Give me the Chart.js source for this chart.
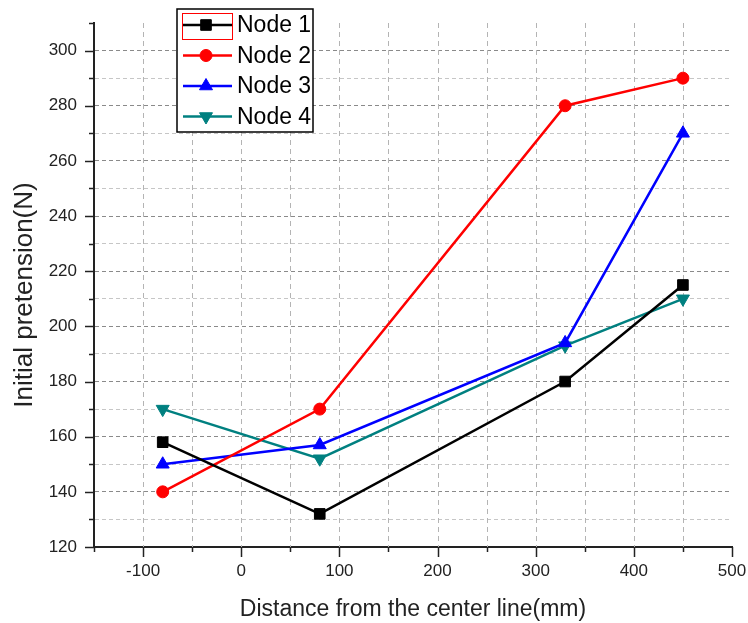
<!DOCTYPE html>
<html>
<head>
<meta charset="utf-8">
<script src="https://cdn.jsdelivr.net/npm/chart.js@4/dist/chart.umd.min.js"></script>
<style>
  html, body { margin: 0; padding: 0; background: #fff; }
  #wrap { width: 748px; height: 623px; }
</style>
</head>
<body>
<div id="wrap"><canvas id="c" width="748" height="623"></canvas></div>
<script>
// ---- data ----
const seriesNames = ['Node 1', 'Node 2', 'Node 3', 'Node 4'];
const xValues = [-80, 80, 330, 450];
const node1 = [158, 132, 180, 215];
const node2 = [140, 170, 280, 290];
const node3 = [150, 157, 194, 270];
const node4 = [170, 152, 193, 210];
const xTickLabels = [-100, 0, 100, 200, 300, 400, 500];
const yTickLabels = [120, 140, 160, 180, 200, 220, 240, 260, 280, 300];
const xTitle = 'Distance from the center line(mm)';
const yTitle = 'Initial pretension(N)';

const FONT = '"Liberation Sans", Arial, Helvetica, sans-serif';
const colors = ['#000000', '#ff0000', '#0000ff', '#008080'];
const styles = ['rect', 'circle', 'triangle', 'triangle'];
const rotations = [0, 0, 0, 180];
const radii = [7.5, 6, 7.5, 7.5];
const allSeries = [node1, node2, node3, node4];

const datasets = allSeries.map((vals, i) => ({
  label: seriesNames[i],
  data: xValues.map((x, j) => ({ x: x, y: vals[j] })),
  showLine: true,
  borderColor: colors[i],
  backgroundColor: colors[i],
  borderWidth: 2.5,
  tension: 0,
  pointStyle: styles[i],
  pointRotation: rotations[i],
  pointRadius: radii[i],
  pointHoverRadius: radii[i],
  pointBackgroundColor: colors[i],
  pointBorderColor: colors[i],
  pointBorderWidth: 1
}));

// vertical dashed grid lines from the x scale's ticks
const vGridPlugin = {
  id: 'vGrid',
  beforeDatasetsDraw(chart) {
    const ctx = chart.ctx, xs = chart.scales.x, area = chart.chartArea;
    ctx.save();
    ctx.strokeStyle = '#b4b4b4';
    ctx.lineWidth = 1;
    ctx.setLineDash([5, 4]);
    xs.ticks.forEach(t => {
      if (t.value === xs.min || t.value === xs.max) return;
      const px = Math.round(xs.getPixelForValue(t.value)) + 0.5;
      ctx.beginPath();
      ctx.moveTo(px, area.top);
      ctx.lineTo(px, area.bottom);
      ctx.stroke();
    });
    ctx.restore();
  }
};

// Custom tick marks (major / minor lengths) and rotated y title
const tickPlugin = {
  id: 'tickMarks',
  afterDraw(chart) {
    const ctx = chart.ctx;
    ctx.save();
    ctx.strokeStyle = '#222';
    ctx.lineWidth = 1.5;
    const xs = chart.scales.x, ys = chart.scales.y;
    xs.ticks.forEach(t => {
      const px = Math.round(xs.getPixelForValue(t.value)) + 0.5;
      const len = xTickLabels.includes(t.value) ? 10 : 5;
      ctx.beginPath();
      ctx.moveTo(px, xs.top);
      ctx.lineTo(px, xs.top + len);
      ctx.stroke();
    });
    ys.ticks.forEach(t => {
      const py = Math.round(ys.getPixelForValue(t.value)) + 0.5;
      const len = yTickLabels.includes(t.value) ? 9 : 5;
      ctx.beginPath();
      ctx.moveTo(ys.right, py);
      ctx.lineTo(ys.right - len, py);
      ctx.stroke();
    });
    // y axis title
    ctx.translate(25, 295);
    ctx.rotate(-Math.PI / 2);
    ctx.fillStyle = '#222';
    ctx.font = '26px ' + FONT;
    ctx.textAlign = 'center';
    ctx.textBaseline = 'middle';
    ctx.fillText(yTitle, 0, 0);
    ctx.restore();
  }
};

// Custom legend box
const legendPlugin = {
  id: 'boxLegend',
  afterDraw(chart) {
    const ctx = chart.ctx;
    const bx = 177, by = 9, bw = 136, bh = 123;
    ctx.save();
    ctx.fillStyle = '#fff';
    ctx.fillRect(bx, by, bw, bh);
    ctx.strokeStyle = '#000';
    ctx.lineWidth = 1.5;
    ctx.strokeRect(bx, by, bw, bh);
    chart.data.datasets.forEach((ds, i) => {
      const cy = 25 + i * 30.5;
      ctx.strokeStyle = ds.borderColor;
      ctx.lineWidth = 2.5;
      ctx.beginPath();
      ctx.moveTo(183, cy);
      ctx.lineTo(232, cy);
      ctx.stroke();
      ctx.fillStyle = ds.pointBackgroundColor;
      ctx.strokeStyle = ds.pointBorderColor;
      ctx.lineWidth = 1;
      if (Chart.helpers && Chart.helpers.drawPoint) {
        Chart.helpers.drawPoint(ctx, {
          pointStyle: ds.pointStyle, rotation: ds.pointRotation,
          radius: ds.pointRadius, borderWidth: 1
        }, 206, cy);
      }
      ctx.fillStyle = '#000';
      ctx.font = '23px ' + FONT;
      ctx.textBaseline = 'middle';
      ctx.textAlign = 'left';
      ctx.fillText(ds.label, 237, cy + 1);
    });
    // selection frame around the first legend sample
    ctx.strokeStyle = '#ff0000';
    ctx.lineWidth = 1;
    ctx.strokeRect(182.5, 13.5, 50, 26);
    ctx.restore();
  }
};

new Chart(document.getElementById('c'), {
  type: 'scatter',
  data: { datasets: datasets },
  options: {
    responsive: false,
    animation: false,
    devicePixelRatio: 1,
    layout: { padding: { top: 23, right: 16, left: 0, bottom: 0 } },
    plugins: {
      legend: { display: false },
      tooltip: { enabled: false }
    },
    scales: {
      x: {
        type: 'linear',
        min: -150, max: 500,
        afterFit(s) { s.height = 76; s.paddingLeft = 0; s.paddingRight = 0; },
        border: { display: true, color: '#222', width: 2 },
        grid: {
          drawOnChartArea: false,
          drawTicks: true,
          tickLength: 8,
          tickColor: 'rgba(0,0,0,0)'
        },
        ticks: {
          stepSize: 50,
          autoSkip: false,
          maxRotation: 0,
          padding: 6,
          color: '#222',
          font: { family: FONT, size: 17 },
          callback(v) { return xTickLabels.includes(v) ? String(v) : ''; }
        },
        title: {
          display: true,
          text: xTitle,
          color: '#222',
          font: { family: FONT, size: 23 },
          padding: { top: 0, bottom: 0 }
        }
      },
      y: {
        type: 'linear',
        min: 120, max: 310,
        afterFit(s) { s.width = 94; s.paddingTop = 0; s.paddingBottom = 0; },
        border: { display: true, color: '#222', width: 2, dash: [4, 3] },
        grid: {
          color(ctx) {
            const v = ctx.tick && ctx.tick.value;
            if (v === 120 || v === 310) return 'rgba(0,0,0,0)';
            return yTickLabels.includes(v) ? '#8a8a8a' : '#c6c6c6';
          },
          lineWidth: 1,
          drawTicks: true,
          tickLength: 8,
          tickColor: 'rgba(0,0,0,0)'
        },
        ticks: {
          stepSize: 10,
          autoSkip: false,
          padding: 9,
          color: '#222',
          font: { family: FONT, size: 17 },
          callback(v) { return yTickLabels.includes(v) ? String(v) : ''; }
        },
        title: { display: false }
      }
    }
  },
  plugins: [vGridPlugin, tickPlugin, legendPlugin]
});
</script>
</body>
</html>
